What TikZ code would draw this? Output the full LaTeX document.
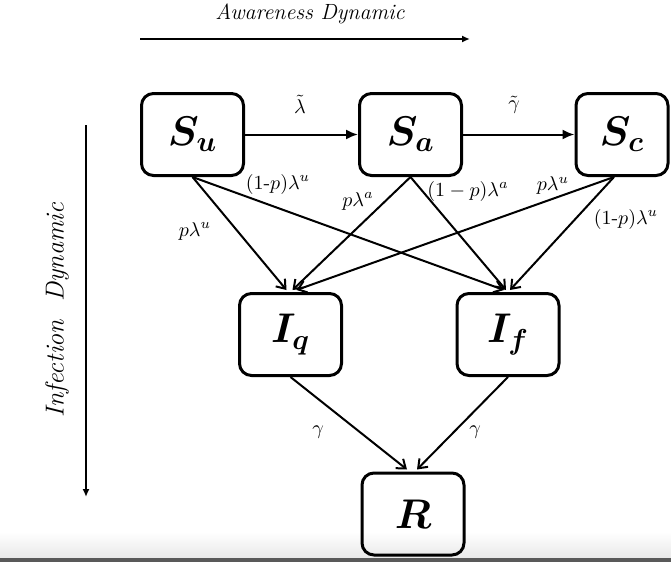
\documentclass[tikz,border=0pt]{standalone}
\usepackage{amsmath,amssymb}
\usepackage{bm}
\usepackage{tikz}
\usetikzlibrary{arrows.meta,positioning,calc}

\begin{document}
\begin{tikzpicture}[
    x=0.5pt, y=-0.5pt,
    comp/.style={draw, line width=1.5pt, rounded corners=6pt, minimum width=51pt, minimum height=41pt, font=\huge},
    flow/.style={line width=1pt, -{Straight Barb[length=4pt,width=6pt]}},
    aware/.style={line width=1pt, -{Latex[length=6pt,width=5pt]}},
    axis/.style={line width=1.2pt, -{Latex[length=4pt,width=3.5pt]}},
    rate/.style={font=\normalsize, inner sep=1pt},
    every label/.style={font=\small}
]
\useasboundingbox (0,0) rectangle (671,562);

% screen edge at the bottom
\shade[top color=white, bottom color=black!9] (0,532) rectangle (671,558);
\fill[black!65] (0,558) rectangle (671,562);

% direction arrows
\node[font=\fontsize{11}{13}\selectfont\itshape] (aw) at (310,14) {Awareness Dynamic};
\coordinate (aw1) at (140,39);
\coordinate (aw2) at (470,39);
\draw[axis] (aw1) -- (aw2);

\node[font=\fontsize{13}{15}\selectfont\itshape, rotate=90] (inf) at (57,310) {Infection~~Dynamic};
\coordinate (inf1) at (86,125);
\coordinate (inf2) at (86,497);
\draw[axis] (inf1) -- (inf2);

% susceptible compartments
\node[comp] (Su) at (192.5,134.5) {$\bm{S_u}$};
\node[comp] (Sa) at (410.5,134.5) {$\bm{S_a}$};
\node[comp, minimum width=46pt] (Sc) at (622,134.5) {$\bm{S_c}$};

% infected compartments
\node[comp] (Iq) at (290.5,334.5) {$\bm{I_q}$};
\node[comp] (If) at (508,334.5) {$\bm{I_f}$};

% recovered
\node[comp] (R) at (413,514) {$\bm{R}$};

% awareness flows
\draw[aware] (Su) -- (Sa);
\draw[aware] (Sa) -- (Sc);
\node[rate] (lt) at (300,104) {$\tilde{\lambda}$};
\node[rate] (gt) at (514,105) {$\tilde{\gamma}$};

% infection flows
\draw[flow] (Su.south) -- ([xshift=-2pt,yshift=1pt]Iq.north);
\draw[flow] (Su.south) -- ([xshift=-2pt,yshift=1pt]If.north);
\draw[flow] (Sa.south) -- ([xshift=1pt,yshift=1pt]Iq.north);
\draw[flow] (Sa.south) -- ([xshift=-1pt,yshift=1pt]If.north);
\draw[flow] ([xshift=-4pt]Sc.south) -- ([xshift=3pt,yshift=1pt]Iq.north);
\draw[flow] ([xshift=-4pt]Sc.south) -- ([xshift=1pt,yshift=1pt]If.north);

\node[rate] (r1) at (195,231) {$p\lambda^u$};
\node[rate] (r2) at (278,184) {$(1\text{-}p)\lambda^u$};
\node[rate] (r3) at (358,201) {$p\lambda^a$};
\node[rate] (r4) at (468,191) {$(1-p)\lambda^a$};
\node[rate] (r5) at (553,186) {$p\lambda^u$};
\node[rate] (r6) at (626,219) {$(1\text{-}p)\lambda^u$};

% recovery
\draw[flow] (Iq.south) -- ([xshift=-3pt,yshift=1pt]R.north);
\draw[flow] (If.south) -- ([xshift=2pt,yshift=1pt]R.north);
\node[rate] (g1) at (318,432) {$\gamma$};
\node[rate] (g2) at (475,432) {$\gamma$};
\end{tikzpicture}
\end{document}
